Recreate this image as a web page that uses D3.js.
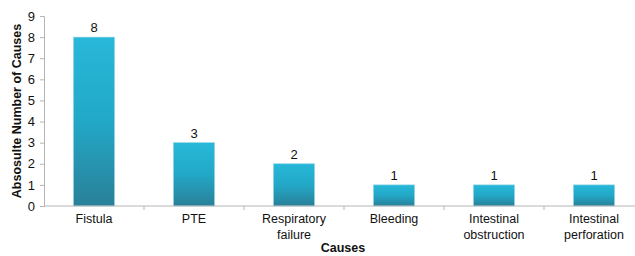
<!DOCTYPE html>
<html><head><meta charset="utf-8">
<script src="https://cdn.jsdelivr.net/npm/d3@7"></script>
<style>body{margin:0;background:#fff;}svg{display:block;font-family:"Liberation Sans",Arial,sans-serif;}</style>
</head><body><svg id="c" width="635" height="256"></svg>
<script>
const categories = [["Fistula"],["PTE"],["Respiratory","failure"],["Bleeding"],["Intestinal","obstruction"],["Intestinal","perforation"]];
const values = [8,3,2,1,1,1];
const yTicks = [0,1,2,3,4,5,6,7,8,9];

const svg = d3.select("#c");
const x0 = 44, x1 = 644, yb = 206, yt = 16;
const keys = categories.map(c=>c.join(" "));
const x = d3.scaleBand().domain(keys).range([x0,x1]).paddingInner(0.59).paddingOuter(0.295);
const xb = d3.scaleBand().domain(keys).range([x0,x1]);
const y = d3.scaleLinear().domain([0,9]).range([yb,yt]);

const defs = svg.append("defs");
const g = defs.append("linearGradient").attr("id","bg").attr("x1",0).attr("y1",0).attr("x2",0).attr("y2",1);
g.append("stop").attr("offset","0%").attr("stop-color","#28b8d9");
g.append("stop").attr("offset","50%").attr("stop-color","#22a8c7");
g.append("stop").attr("offset","100%").attr("stop-color","#2a8098");

// bars
svg.selectAll("rect.bar").data(values).join("rect").attr("class","bar")
  .attr("x",(d,i)=>x(keys[i])).attr("width",x.bandwidth())
  .attr("y",d=>y(d)).attr("height",d=>yb-y(d))
  .attr("fill","url(#bg)").attr("stroke","#8fd3e3").attr("stroke-width",0.6);

// y axis
const ya = svg.append("g").attr("transform",`translate(${x0},0)`)
  .call(d3.axisLeft(y).tickValues(yTicks).tickSize(4).tickPadding(5));
ya.select(".domain").attr("stroke","#b5b5b5");
ya.selectAll(".tick line").attr("stroke","#b5b5b5");
ya.selectAll("text").attr("font-size",13).attr("fill","#111").attr("font-family","Liberation Sans, Arial");

// x axis
const xa = svg.append("g").attr("transform",`translate(0,${yb})`);
xa.append("line").attr("x1",x0).attr("x2",x1).attr("y1",0).attr("y2",0).attr("stroke","#b5b5b5");
xa.selectAll("line.t").data(keys.slice(1)).join("line").attr("class","t")
  .attr("x1",d=>xb(d)).attr("x2",d=>xb(d)).attr("y1",0).attr("y2",4).attr("stroke","#b5b5b5");
const lbl = svg.append("g").selectAll("text").data(categories).join("text")
  .attr("x",(d,i)=>x(keys[i])+x.bandwidth()/2).attr("y",223)
  .attr("text-anchor","middle").attr("font-size",12.5).attr("fill","#111");
lbl.each(function(d){
  const t=d3.select(this);
  d.forEach((s,j)=>t.append("tspan").attr("x",t.attr("x")).attr("dy",j?15.5:0).text(s));
});

// value labels
svg.selectAll("text.v").data(values).join("text").attr("class","v")
  .attr("x",(d,i)=>x(keys[i])+x.bandwidth()/2).attr("y",d=>y(d)-5)
  .attr("text-anchor","middle").attr("font-size",13).attr("fill","#111").text(d=>d);

// titles
svg.append("text").attr("x",343).attr("y",252).attr("text-anchor","middle")
  .attr("font-size",12.5).attr("font-weight","bold").attr("fill","#111").text("Causes");
svg.append("text").attr("transform","translate(21,111) rotate(-90)").attr("text-anchor","middle")
  .attr("font-size",12.5).attr("font-weight","bold").attr("fill","#111").text("Absosulte Number of Causes");
</script></body></html>
